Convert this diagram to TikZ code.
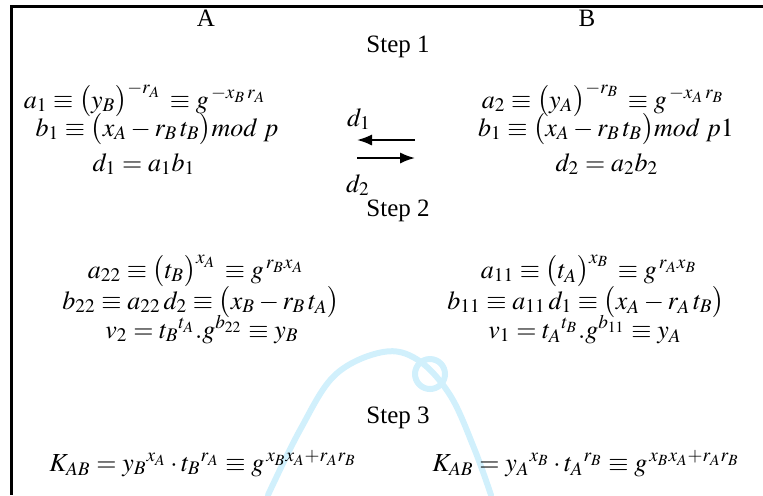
\documentclass[tikz,border=0pt]{standalone}
\usepackage{amsmath}
\usepackage{mathptmx}
\usepackage[no-math]{fontspec}
\setmainfont{Liberation Serif}
\usetikzlibrary{arrows.meta}

\begin{document}
\begin{tikzpicture}[
		x={(0.5pt,0pt)},
		y={(0pt,-0.5pt)},
		font=\fontsize{13}{15}\selectfont,
		>=Latex,
		eqn/.style={anchor=base, inner sep=0pt},
		hdr/.style={anchor=base, inner sep=0pt, font=\fontsize{12.5}{15}\selectfont},
		msg/.style={->, line width=1pt}
		]
		\useasboundingbox (0,0) rectangle (763,495);
		
		% faint logo arc behind the text
		\draw[cyan!18, line width=3pt, line cap=round]
		plot[smooth, tension=0.6] coordinates {(268,495) (300,430) (335,375) (383,352) (418,360) (450,395) (474,448) (491,495)};
		\draw[cyan!18, line width=3pt] (430,374) circle (15);
		
		% frame
		\draw[line width=1.5pt] (763,6.5) -- (11.5,6.5) -- (11.5,495);
		
		% parties
		\node[hdr] (hA) at (206,26) {A};
		\node[hdr] (hB) at (587,26) {B};
		
		% step 1
		\node[hdr] (st1) at (398,52) {Step 1};
		\node[eqn] (a1) at (145,108) {$a_1 \equiv \bigl(y_{B}\bigr)^{-r_A} \,\equiv g^{\,-x_B\, r_A}$};
		\node[eqn] (b1) at (157,136) {$b_1 \equiv \bigl(x_{A} - r_B\, t_B\bigr)\mathit{mod}\ p$};
		\node[eqn] (d1) at (144,171) {$d_1 = a_1 b_1$};
		\node[eqn] (a2) at (603,108) {$a_2 \equiv \bigl(y_{A}\bigr)^{-r_B} \,\equiv g^{\,-x_A\, r_B}$};
		\node[eqn] (b1r) at (606,136) {$b_1 \equiv \bigl(x_{A} - r_B\, t_B\bigr)\mathit{mod}\ p1$};
		\node[eqn] (d2) at (607,171) {$d_2 = a_2 b_2$};
		
		% exchange of d1 and d2
		\coordinate (m1l) at (357,140);
		\coordinate (m1r) at (415,140);
		\coordinate (m2l) at (357,158);
		\coordinate (m2r) at (415,158);
		\draw[msg] (m1r) -- (m1l);
		\draw[msg] (m2l) -- (m2r);
		\node[eqn] (lbd1) at (359,126) {$d_1$};
		\node[eqn] (lbd2) at (358,192) {$d_2$};
		
		% step 2
		\node[hdr] (st2) at (398,216) {Step 2};
		\node[eqn] (a22) at (196,278) {$a_{22} \equiv \bigl(t_{B}\bigr)^{x_A} \,\equiv g^{\,r_B x_A}$};
		\node[eqn] (b22) at (201,309) {$b_{22} \equiv a_{22}\, d_2 \equiv \bigl(x_{B} - r_B\, t_A\bigr)$};
		\node[eqn] (v2) at (202,338) {$v_2 = {t_B}^{t_A} .g^{b_{22}} \equiv y_B$};
		\node[eqn] (a11) at (589,278) {$a_{11} \equiv \bigl(t_{A}\bigr)^{x_B} \,\equiv g^{\,r_A x_B}$};
		\node[eqn] (b11) at (586,309) {$b_{11} \equiv a_{11}\, d_1 \equiv \bigl(x_{A} - r_A\, t_B\bigr)$};
		\node[eqn] (v1) at (585,338) {$v_1 = {t_A}^{t_B} .g^{b_{11}} \equiv y_A$};
		
		% step 3
		\node[hdr] (st3) at (398,423) {Step 3};
		\node[eqn] (kA) at (203,471) {$K_{AB} = {y_B}^{x_A} \cdot {t_B}^{r_A} \equiv g^{\,x_B x_A + r_A r_B}$};
		\node[eqn] (kB) at (586,471) {$K_{AB} = {y_A}^{x_B} \cdot {t_A}^{r_B} \equiv g^{\,x_B x_A + r_A r_B}$};
		
	\end{tikzpicture}
\end{document}
